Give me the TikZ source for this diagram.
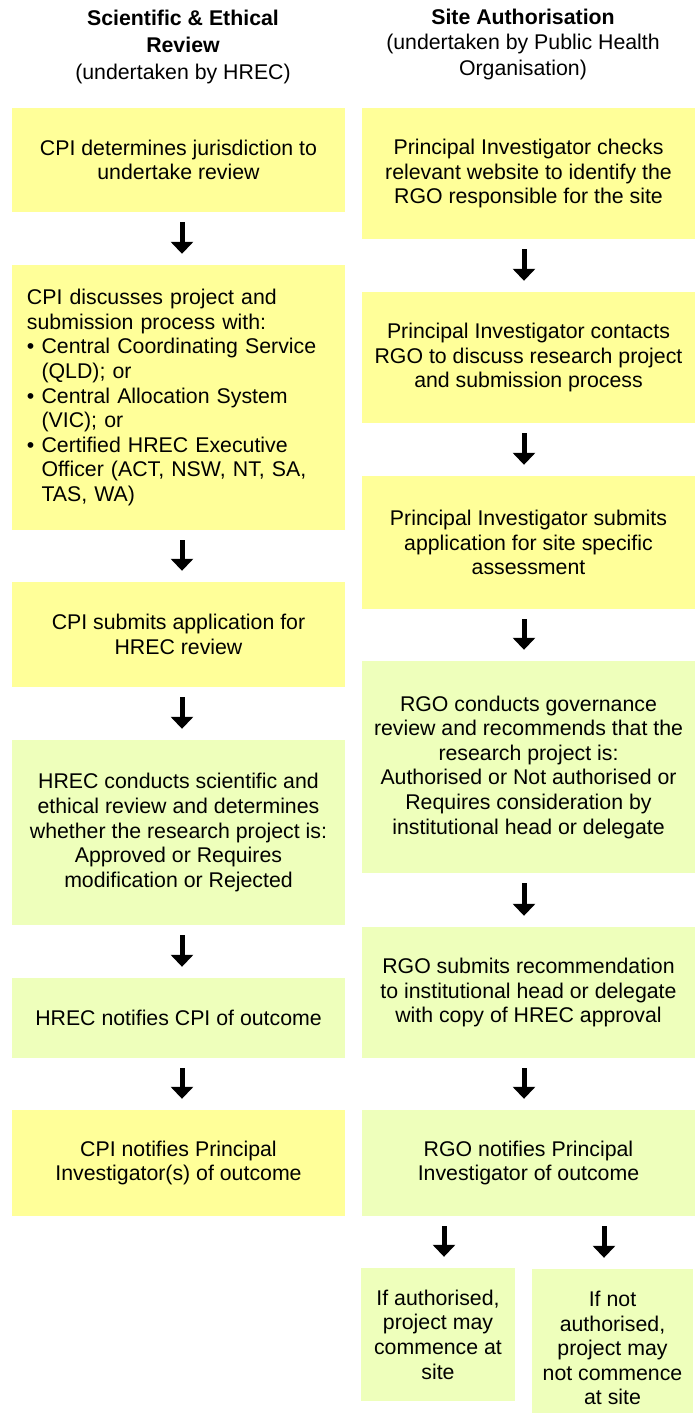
\documentclass[tikz,border=0pt]{standalone}
\usepackage{fontspec}
\setmainfont{Liberation Sans}
\usetikzlibrary{arrows.meta}
\definecolor{stageyellow}{HTML}{FFFF99}
\definecolor{stagegreen}{HTML}{EEFFBB}
\tikzset{every picture/.style={x=1pt, y=-1pt, every picture/.style={}}}
\tikzset{
  stage/.style={inner sep=0pt, minimum width=333pt, align=center,
    font=\fontsize{21.3pt}{24.6pt}\selectfont},
  heading/.style={align=center, font=\fontsize{21.3pt}{27pt}\selectfont},
  flowarrow/.style={line width=5pt, -{Triangle[width=22pt,length=12pt]},
    shorten <=10pt, shorten >=11pt}
}
\newcommand\stagebox[7][]{\node[stage, fill=#6, minimum height=(#5-#4)*1pt, #1] (#2) at (#3,{(#4+#5)/2}) {#7};}

\begin{document}
\begin{tikzpicture}
      \useasboundingbox (0,0) rectangle (696,1413);
      \clip (0,0) rectangle (696,1413);

      % Column headings
      \node[heading] (lhead) at (183,46.5) {\textbf{Scientific \& Ethical}\\\textbf{Review}\\(undertaken by HREC)};
      \node[heading, font=\fontsize{21.3pt}{25.5pt}\selectfont] (rhead) at (523,44) {\textbf{Site Authorisation}\\(undertaken by Public Health\\Organisation)};

      % HREC review steps
      \stagebox{l1}{178.5}{108}{212}{stageyellow}{CPI determines jurisdiction to\\undertake review}
      \stagebox[align=left, text width=303pt, inner xsep=15pt]{l2}{178.5}{265}{530}{stageyellow}{CPI discusses project and\\submission process with:\\• Central Coordinating Service\\\hphantom{• }(QLD); or\\• Central Allocation System\\\hphantom{• }(VIC); or\\• Certified HREC Executive\\\hphantom{• }Officer (ACT, NSW, NT, SA,\\\hphantom{• }TAS, WA)}
      \stagebox{l3}{178.5}{582}{687}{stageyellow}{CPI submits application for\\HREC review}
      \stagebox{l4}{178.5}{740}{925}{stagegreen}{HREC conducts scientific and\\ethical review and determines\\whether the research project is:\\Approved or Requires\\modification or Rejected}
      \stagebox{l5}{178.5}{978}{1058}{stagegreen}{HREC notifies CPI of outcome}
      \stagebox{l6}{178.5}{1110}{1216}{stageyellow}{CPI notifies Principal\\Investigator(s) of outcome}

      % Site authorisation steps
      \stagebox{r1}{528.5}{108}{239}{stageyellow}{Principal Investigator checks\\relevant website to identify the\\RGO responsible for the site}
      \stagebox{r2}{528.5}{292}{423}{stageyellow}{Principal Investigator contacts\\RGO to discuss research project\\and submission process}
      \stagebox{r3}{528.5}{476}{609}{stageyellow}{Principal Investigator submits\\application for site specific\\assessment}
      \stagebox{r4}{528.5}{661}{873}{stagegreen}{RGO conducts governance\\review and recommends that the\\research project is:\\Authorised or Not authorised or\\Requires consideration by\\institutional head or delegate}
      \stagebox{r5}{528.5}{927}{1058}{stagegreen}{RGO submits recommendation\\to institutional head or delegate\\with copy of HREC approval}
      \stagebox{r6}{528.5}{1110}{1216}{stagegreen}{RGO notifies Principal\\Investigator of outcome}
      \stagebox[minimum width=154pt]{s1}{438}{1268}{1401}{stagegreen}{If authorised,\\project may\\commence at\\site}
      \stagebox[minimum width=161pt]{s2}{612.5}{1269}{1427}{stagegreen}{If not\\authorised,\\project may\\not commence\\at site}

      % Arrows between the steps
      \coordinate (lcol) at (182,0);
      \coordinate (rcol) at (524,0);
      \coordinate (s1col) at (444,0);
      \coordinate (s2col) at (604,0);
      \foreach \a/\b in {l1/l2,l2/l3,l3/l4,l4/l5,l5/l6}{
          \draw[flowarrow] (\a.south -| lcol) -- (\b.north -| lcol);
        }
      \foreach \a/\b in {r1/r2,r2/r3,r3/r4,r4/r5,r5/r6}{
          \draw[flowarrow] (\a.south -| rcol) -- (\b.north -| rcol);
        }
      \draw[flowarrow] (r6.south -| s1col) -- (s1.north -| s1col);
      \draw[flowarrow] (r6.south -| s2col) -- (s2.north -| s2col);
    \end{tikzpicture}
\end{document}
